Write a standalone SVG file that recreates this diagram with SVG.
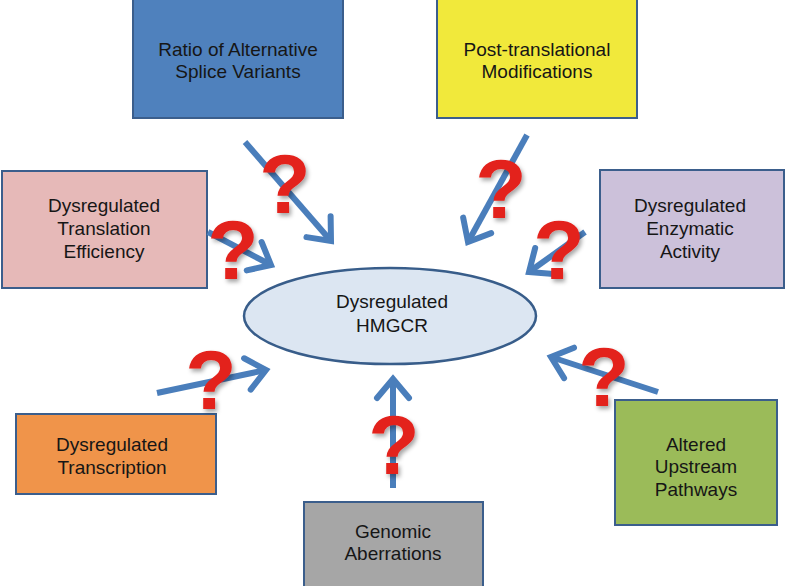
<svg xmlns="http://www.w3.org/2000/svg" width="787" height="586" viewBox="0 0 787 586">
<defs>
<style>
.box{stroke:#3b5e8c;stroke-width:2}
.lbl{font-family:"Liberation Sans",Arial,sans-serif;font-size:19px;fill:#161616;text-anchor:middle}
.arr{stroke:#4a7ebb;stroke-width:6;fill:none;marker-end:url(#head)}
.q{font-family:"Liberation Sans",Arial,sans-serif;font-weight:bold;font-size:84px;fill:#e3201b;text-anchor:middle;filter:url(#sh)}
</style>
<marker id="head" viewBox="-26 -22 32 44" refX="0" refY="0" markerWidth="32" markerHeight="44" markerUnits="userSpaceOnUse" orient="auto">
<path d="M-19,-16 L0,0 L-19,16" fill="none" stroke="#4a7ebb" stroke-width="6" stroke-linejoin="miter" stroke-linecap="round"/>
</marker>
<filter id="sh" x="-30%" y="-30%" width="160%" height="160%">
<feDropShadow dx="2" dy="3" stdDeviation="2" flood-color="#000" flood-opacity="0.35"/>
</filter>
</defs>
<rect width="787" height="586" fill="#fff"/>

<g id="hmgcr">
<ellipse cx="390" cy="316" rx="146" ry="48" fill="#dce6f2" stroke="#385d8a" stroke-width="2.5"/>
<text class="lbl" x="392" y="308">Dysregulated</text>
<text class="lbl" x="392" y="332">HMGCR</text>
</g>

<g id="splice">
<rect class="box" x="133" y="-1" width="210" height="119" fill="#4f81bd"/>
<text class="lbl" x="238" y="56">Ratio of Alternative</text>
<text class="lbl" x="238" y="78">Splice Variants</text>
</g>

<g id="ptm">
<rect class="box" x="437" y="-1" width="200" height="119" fill="#f1e93b"/>
<text class="lbl" x="537" y="56">Post-translational</text>
<text class="lbl" x="537" y="78">Modifications</text>
</g>

<g id="translation">
<rect class="box" x="2" y="171" width="205" height="117" fill="#e6b9b8"/>
<text class="lbl" x="104" y="212">Dysregulated</text>
<text class="lbl" x="104" y="235">Translation</text>
<text class="lbl" x="104" y="258">Efficiency</text>
</g>

<g id="enzymatic">
<rect class="box" x="600" y="170" width="184" height="118" fill="#ccc1da"/>
<text class="lbl" x="690" y="212">Dysregulated</text>
<text class="lbl" x="690" y="235">Enzymatic</text>
<text class="lbl" x="690" y="258">Activity</text>
</g>

<g id="transcription">
<rect class="box" x="16" y="414" width="200" height="80" fill="#f0944a"/>
<text class="lbl" x="112" y="451">Dysregulated</text>
<text class="lbl" x="112" y="474">Transcription</text>
</g>

<g id="genomic">
<rect class="box" x="304" y="502" width="179" height="86" fill="#a6a6a6"/>
<text class="lbl" x="393" y="538">Genomic</text>
<text class="lbl" x="393" y="560">Aberrations</text>
</g>

<g id="upstream">
<rect class="box" x="615" y="400" width="162" height="125" fill="#9bbb59"/>
<text class="lbl" x="696" y="451">Altered</text>
<text class="lbl" x="696" y="473">Upstream</text>
<text class="lbl" x="696" y="496">Pathways</text>
</g>

<g id="connectors">
<line class="arr" x1="245" y1="142" x2="331" y2="241"/>
<line class="arr" x1="208" y1="232" x2="271" y2="265"/>
<line class="arr" x1="527" y1="135" x2="468" y2="242"/>
<line class="arr" x1="585" y1="232" x2="529" y2="272"/>
<line class="arr" x1="157" y1="393" x2="266" y2="370"/>
<line class="arr" x1="393" y1="488" x2="393" y2="379"/>
<line class="arr" x1="658" y1="392" x2="551" y2="357"/>
</g>

<g id="marks">
<text class="q" x="285" y="213">?</text>
<text class="q" x="233" y="279">?</text>
<text class="q" x="501" y="218">?</text>
<text class="q" x="559" y="279">?</text>
<text class="q" x="211" y="409">?</text>
<text class="q" x="394" y="474">?</text>
<text class="q" x="604" y="406">?</text>
</g>
</svg>
